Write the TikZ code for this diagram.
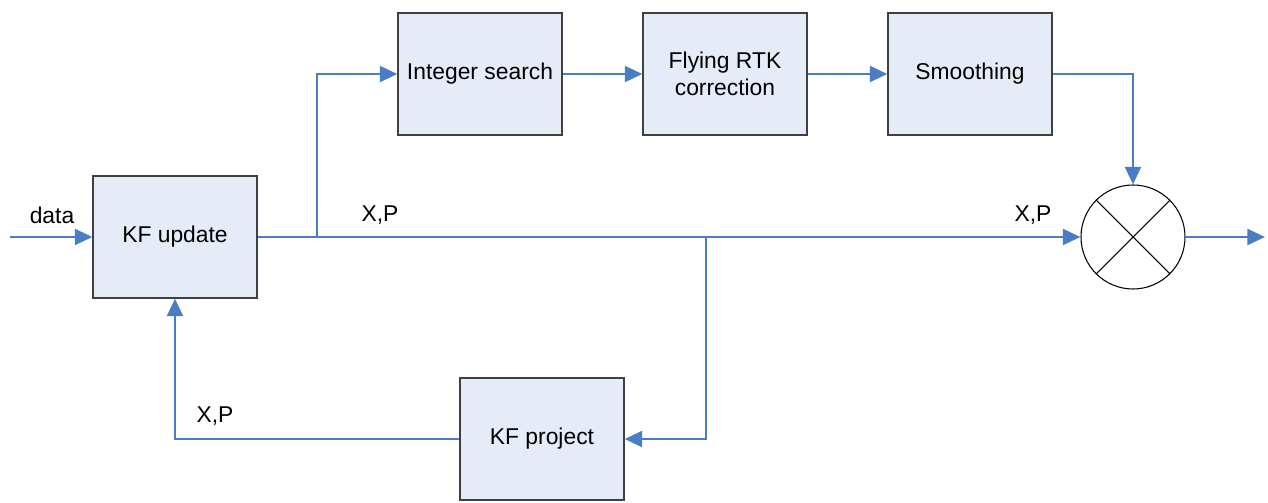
\documentclass[tikz,border=0pt]{standalone}
\usepackage{fontspec}
\setmainfont{Liberation Sans}
\usetikzlibrary{arrows.meta,positioning}
\definecolor{flow}{HTML}{4A7EC4}
\definecolor{boxfill}{HTML}{E6ECF7}
\definecolor{boxline}{HTML}{404040}

\begin{document}
\begin{tikzpicture}[
  font=\fontsize{13}{15}\selectfont,
  block/.style={draw=boxline, line width=0.7pt, fill=boxfill,
    minimum width=3.28cm, minimum height=2.44cm, align=center, inner sep=2pt},
  mixer/.style={circle, draw=black, line width=0.6pt, fill=white, minimum size=2.08cm},
  lbl/.style={font=\fontsize{13}{15}\selectfont, text=black},
  arrow/.style={-{Triangle[length=10pt,width=9pt]}, line width=1.6pt, draw=flow},
  plain/.style={line width=1.6pt, draw=flow}
]
\useasboundingbox (0,0) rectangle (25.36,10.04);

% blocks
\node[block] (kfupdate) at (3.5,5.3) {KF update};
\node[block] (intsearch) at (9.6,8.56) {Integer search};
\node[block] (rtkcorr) at (14.5,8.56) {Flying RTK\\correction};
\node[block] (smooth) at (19.4,8.56) {Smoothing};
\node[block] (kfproject) at (10.84,1.26) {KF project};
\node[mixer] (mix) at (22.66,5.3) {};
\draw[line width=0.6pt] (mix.north west) -- (mix.south east);
\draw[line width=0.6pt] (mix.north east) -- (mix.south west);

% free ends and branch points
\coordinate (datain) at (0.2,5.3);
\coordinate (dataout) at (25.3,5.3);
\coordinate (split1) at (6.34,5.3);
\coordinate (split2) at (14.12,5.3);

% connectors
\draw[arrow] (datain) -- (kfupdate.west);
\draw[arrow] (kfupdate.east) -- (mix.west);
\draw[arrow] (split1) |- (intsearch.west);
\draw[arrow] (intsearch) -- (rtkcorr);
\draw[arrow] (rtkcorr) -- (smooth);
\draw[arrow] (smooth.east) -| (mix.north);
\draw[arrow] (mix.east) -- (dataout);
\draw[arrow] (split2) |- (kfproject.east);
\draw[arrow] (kfproject.west) -| (kfupdate.south);

% labels
\node[lbl] (ldata) at (1.04,5.74) {data};
\node[lbl] (lxp1) at (7.6,5.74) {X,P};
\node[lbl] (lxp2) at (20.66,5.74) {X,P};
\node[lbl] (lxp3) at (4.3,1.72) {X,P};

\end{tikzpicture}
\end{document}
